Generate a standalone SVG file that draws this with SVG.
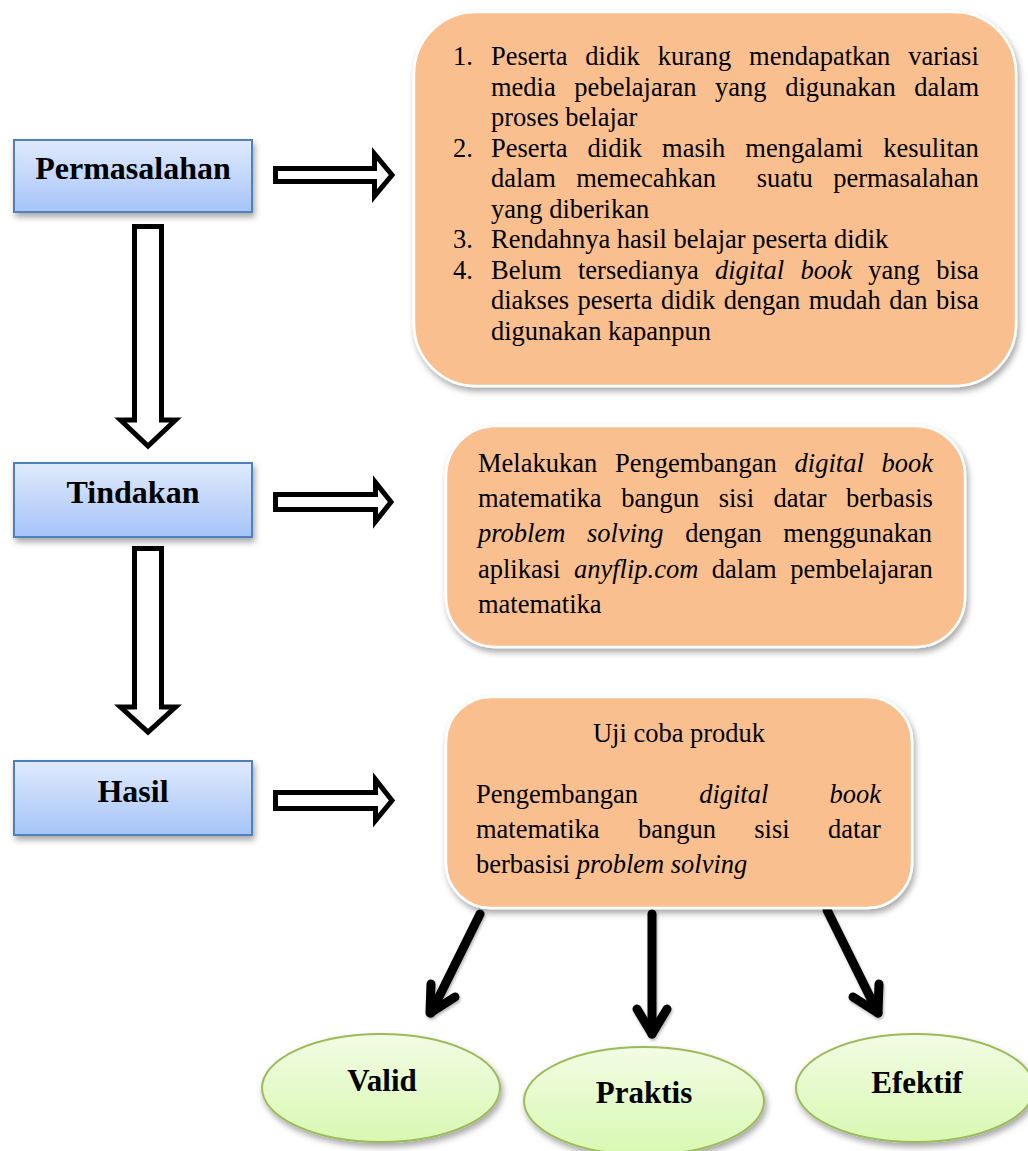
<svg xmlns="http://www.w3.org/2000/svg" width="1028" height="1151" viewBox="0 0 1028 1151">
<defs>
<linearGradient id="gBlue" x1="0" y1="0" x2="0" y2="1">
<stop offset="0" stop-color="#E0EAFC"/>
<stop offset="1" stop-color="#A6C4F8"/>
</linearGradient>
<linearGradient id="gGreen" x1="0" y1="0" x2="0" y2="1">
<stop offset="0" stop-color="#F2FCE4"/>
<stop offset="1" stop-color="#D9F8B2"/>
</linearGradient>
<filter id="sh" x="-10%" y="-10%" width="125%" height="130%">
<feDropShadow dx="2" dy="4" stdDeviation="3" flood-color="#000" flood-opacity="0.35"/>
</filter>
<filter id="shs" filterUnits="userSpaceOnUse" x="0" y="0" width="1028" height="1151">
<feDropShadow dx="1" dy="2" stdDeviation="1.5" flood-color="#000" flood-opacity="0.3"/>
</filter>
</defs>
<style>
.bl{fill:url(#gBlue);stroke:#4F81BD;stroke-width:2;filter:url(#sh)}
.or{fill:#F9BF8F;stroke:#FFFFFF;stroke-width:2.5;filter:url(#sh)}
.gr{fill:url(#gGreen);stroke:#9BBB59;stroke-width:2;filter:url(#sh)}
.ba{fill:#FFFFFF;stroke:#000;stroke-width:5;stroke-linejoin:miter}
.ln{fill:none;stroke:#000;stroke-width:9;stroke-linecap:round;stroke-linejoin:round}
.lb{font-family:'Liberation Serif','Times New Roman',serif;font-weight:bold;font-size:32px;fill:#000;text-anchor:middle}
.el{font-family:'Liberation Serif','Times New Roman',serif;font-weight:bold;font-size:31px;fill:#000;text-anchor:middle}
.tx{font-family:'Liberation Serif','Times New Roman',serif;font-size:26.5px;fill:#000}
.it{font-style:italic}
</style>

<g id="connectors">
<path class="ba" d="M275.5,168.5 H374.5 V154 L392,175 L374.5,196 V181.5 H275.5 Z"/>
<path class="ba" d="M275.5,494.5 H375.5 V482.5 L391,502 L375.5,521.5 V509.5 H275.5 Z"/>
<path class="ba" d="M275.5,792.5 H375.5 V779.5 L392,800.5 L375.5,820.5 V808.5 H275.5 Z"/>
<path class="ba" d="M134.5,226.5 H161.5 V420 H175.5 L148,446 L120.5,420 H134.5 Z"/>
<path class="ba" d="M134.5,548.5 H161.5 V707 H175.5 L148,732 L120.5,707 H134.5 Z"/>
<g filter="url(#shs)">
<line class="ln" x1="480" y1="914" x2="431" y2="1013"/>
<polyline class="ln" points="431,984 430,1013 455,997"/>
<line class="ln" x1="652" y1="914" x2="652" y2="1034"/>
<polyline class="ln" points="637,1009 652,1034 667,1009"/>
<line class="ln" x1="827" y1="910" x2="878" y2="1013"/>
<polyline class="ln" points="853,997 878,1013 879,984"/>
</g>
</g>

<g id="permasalahan">
<rect class="bl" x="14" y="140" width="238" height="72"/>
<text class="lb" x="133" y="179">Permasalahan</text>
</g>
<g id="tindakan">
<rect class="bl" x="14" y="463" width="238" height="74"/>
<text class="lb" x="133" y="503">Tindakan</text>
</g>
<g id="hasil">
<rect class="bl" x="14" y="761" width="238" height="74"/>
<text class="lb" x="133" y="802">Hasil</text>
</g>

<g id="masalah-list">
<rect class="or" x="414" y="12" width="602" height="374" rx="62" ry="62"/>
<text class="tx" x="453" y="65">1.</text>
<text class="tx" x="491" y="65" word-spacing="11.2">Peserta didik kurang mendapatkan variasi</text>
<text class="tx" x="491" y="95.5" word-spacing="12">media pebelajaran yang digunakan dalam</text>
<text class="tx" x="491" y="126">proses belajar</text>
<text class="tx" x="453" y="156.5">2.</text>
<text class="tx" x="491" y="156.5" word-spacing="13.4">Peserta didik masih mengalami kesulitan</text>
<text class="tx" x="491" y="187" word-spacing="13.8" xml:space="preserve">dalam memecahkan  suatu permasalahan</text>
<text class="tx" x="491" y="217.5">yang diberikan</text>
<text class="tx" x="453" y="248">3.</text>
<text class="tx" x="491" y="248">Rendahnya hasil belajar peserta didik</text>
<text class="tx" x="453" y="278.5">4.</text>
<text class="tx" x="491" y="278.5" word-spacing="9.7">Belum tersedianya <tspan class="it">digital book</tspan> yang bisa</text>
<text class="tx" x="491" y="309" word-spacing="1.8">diakses peserta didik dengan mudah dan bisa</text>
<text class="tx" x="491" y="339.5">digunakan kapanpun</text>
</g>

<g id="tindakan-desc">
<rect class="or" x="446" y="426" width="519" height="221" rx="50" ry="50"/>
<text class="tx" x="478" y="472" word-spacing="11.1">Melakukan Pengembangan <tspan class="it">digital book</tspan></text>
<text class="tx" x="478" y="507" word-spacing="12.9">matematika bangun sisi datar berbasis</text>
<text class="tx" x="478" y="542" word-spacing="15"><tspan class="it">problem solving</tspan> dengan menggunakan</text>
<text class="tx" x="478" y="577.5" word-spacing="6.9">aplikasi <tspan class="it">anyflip.com</tspan> dalam pembelajaran</text>
<text class="tx" x="478" y="613">matematika</text>
</g>

<g id="hasil-desc">
<rect class="or" x="446" y="697" width="466" height="211" rx="45" ry="45"/>
<text class="tx" x="679" y="742" text-anchor="middle">Uji coba produk</text>
<text class="tx" x="476" y="803" word-spacing="54.6">Pengembangan <tspan class="it">digital book</tspan></text>
<text class="tx" x="476" y="838" word-spacing="31.7">matematika bangun sisi datar</text>
<text class="tx" x="476" y="873">berbasisi <tspan class="it">problem solving</tspan></text>
</g>

<g id="valid">
<ellipse class="gr" cx="381" cy="1088" rx="119" ry="54"/>
<text class="el" x="382" y="1091">Valid</text>
</g>
<g id="praktis">
<ellipse class="gr" cx="644" cy="1101" rx="120" ry="54"/>
<text class="el" x="644" y="1103">Praktis</text>
</g>
<g id="efektif">
<ellipse class="gr" cx="915" cy="1088" rx="119" ry="54"/>
<text class="el" x="917" y="1093">Efektif</text>
</g>
</svg>
